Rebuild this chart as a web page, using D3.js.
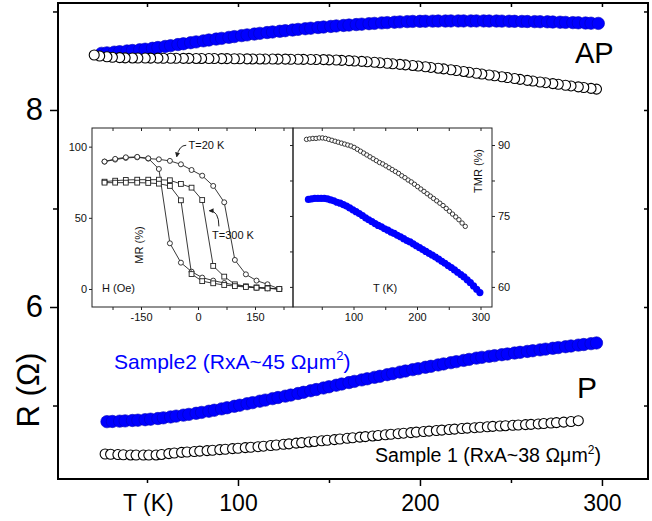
<!DOCTYPE html>
<html>
<head>
<meta charset="utf-8">
<script src="https://cdn.jsdelivr.net/npm/d3@7"></script>
<style>
  body { margin: 0; background: #fff; }
  text { font-family: Arial, "Liberation Sans", sans-serif; }
</style>
</head>
<body>
<div id="chart"></div>
<script>
// ---- main panel data: R (Ohm) vs T (K) ----
// sample 1, antiparallel state (open circles)
var tAP1 = [21,24,28,31,35,38,42,45,49,52,56,59,63,66,70,73,77,80,84,87,91,94,98,101,105,108,112,115,119,122,126,129,133,136,140,143,147,150,154,157,161,164,168,171,175,178,182,185,189,192,196,199,203,206,210,213,217,220,224,227,231,234,238,241,245,248,252,255,259,262,266,269,273,276,280,283,287,290,294,297];
var rAP1 = [8.558,8.548,8.540,8.535,8.531,8.529,8.528,8.527,8.527,8.526,8.526,8.525,8.525,8.525,8.524,8.524,8.523,8.523,8.522,8.522,8.521,8.521,8.520,8.520,8.519,8.518,8.518,8.517,8.517,8.516,8.516,8.515,8.515,8.514,8.513,8.512,8.511,8.509,8.507,8.504,8.501,8.497,8.493,8.489,8.484,8.479,8.474,8.469,8.463,8.458,8.452,8.446,8.439,8.432,8.424,8.417,8.408,8.401,8.391,8.383,8.373,8.365,8.355,8.347,8.337,8.329,8.319,8.311,8.301,8.294,8.284,8.277,8.268,8.261,8.251,8.244,8.235,8.228,8.219,8.212];
// sample 2, antiparallel state (blue)
var tAP2 = [25,28,32,35,39,42,46,49,53,56,60,63,67,70,74,77,81,84,88,91,95,98,102,105,109,112,116,119,123,126,130,133,137,140,144,147,151,154,158,161,165,168,172,175,179,182,186,189,193,196,200,203,207,210,214,217,221,224,228,231,235,238,242,245,249,252,256,259,263,266,270,273,277,280,284,287,291,294,298];
var rAP2 = [8.575,8.580,8.587,8.592,8.599,8.604,8.611,8.617,8.626,8.634,8.645,8.653,8.664,8.672,8.683,8.691,8.702,8.710,8.720,8.727,8.737,8.745,8.755,8.762,8.771,8.778,8.786,8.792,8.799,8.805,8.812,8.818,8.825,8.830,8.837,8.842,8.848,8.853,8.858,8.862,8.867,8.871,8.876,8.879,8.884,8.887,8.891,8.894,8.897,8.899,8.900,8.901,8.902,8.903,8.903,8.904,8.904,8.904,8.904,8.904,8.904,8.903,8.903,8.902,8.901,8.900,8.899,8.898,8.897,8.896,8.895,8.893,8.891,8.889,8.887,8.885,8.883,8.881,8.879];
// sample 2, parallel state (blue)
var tP2 = [28,31,35,38,42,45,49,52,56,59,63,66,70,73,77,80,84,87,91,94,98,101,105,108,112,115,119,122,126,129,133,136,140,143,147,150,154,157,161,164,168,171,175,178,182,185,189,192,196,199,203,206,210,213,217,220,224,227,231,234,238,241,245,248,252,255,259,262,266,269,273,276,280,283,287,290,294,297];
var rP2 = [4.836,4.838,4.841,4.844,4.848,4.851,4.856,4.861,4.868,4.875,4.884,4.892,4.902,4.910,4.921,4.930,4.942,4.952,4.966,4.977,4.992,5.003,5.018,5.029,5.044,5.055,5.070,5.081,5.095,5.106,5.122,5.134,5.150,5.162,5.178,5.190,5.206,5.218,5.233,5.245,5.260,5.271,5.286,5.297,5.313,5.324,5.339,5.350,5.364,5.374,5.388,5.398,5.412,5.422,5.435,5.445,5.458,5.468,5.481,5.489,5.499,5.506,5.516,5.523,5.533,5.540,5.549,5.556,5.565,5.572,5.581,5.588,5.597,5.604,5.613,5.619,5.628,5.635];
// sample 1, parallel state (open circles)
var tP1 = [27,30,34,37,41,44,48,51,55,58,62,65,69,72,76,79,83,86,90,93,97,100,104,107,111,114,118,121,125,128,132,135,139,142,146,149,153,156,160,163,167,170,174,177,181,184,188,191,195,198,202,205,209,212,216,219,223,226,230,233,237,240,244,247,251,254,258,261,265,268,272,275,279,283,287];
var rP1 = [4.508,4.505,4.502,4.500,4.498,4.497,4.497,4.497,4.498,4.503,4.512,4.518,4.524,4.528,4.533,4.537,4.542,4.546,4.552,4.556,4.562,4.566,4.572,4.576,4.582,4.587,4.594,4.599,4.606,4.611,4.618,4.623,4.630,4.635,4.642,4.647,4.654,4.660,4.667,4.672,4.679,4.684,4.691,4.696,4.703,4.708,4.714,4.719,4.725,4.730,4.736,4.740,4.746,4.750,4.756,4.760,4.766,4.770,4.775,4.779,4.784,4.788,4.792,4.795,4.799,4.802,4.806,4.809,4.813,4.817,4.822,4.826,4.831,4.837,4.846];

var xMajor = [100, 200, 300], xMinor = [50, 150, 250];
var yMajor = [6, 8], yMinor = [5, 7, 9];

// ---- inset left: MR (%) vs H (Oe) ----
var hField = [-246,-218,-190,-160,-131,-103,-74,-45,-17,11,40,69,97,126,154,183,214];
var mr20a = [89.5,90.9,92.1,92.5,91.6,91.1,90.0,87.6,83.6,79.6,72.4,60.9,20.4,10.3,5.9,3.3,0];
var mr20b = [89.5,91.4,92.5,92.8,91.8,84.3,32.1,18.5,12.2,8.0,5.9,4.2,2.8,1.6,0.9,0.5,0];
var mr300a = [75.4,76.1,76.6,76.8,76.8,76.8,76.4,73.8,71.2,62.5,16.2,8.7,3.3,1.9,1.1,0.7,0];
var mr300b = [74.7,74.7,74.7,74.7,74.5,74.0,72.4,62.3,10.5,5.5,4.0,2.8,2.0,1.4,0.9,0.4,0];
var hTicks = [-225,-150,-75,0,75,150,225], hLabels = [-150, 0, 150];
var mrTicks = [0, 50, 100];

// ---- inset right: TMR (%) vs T (K) ----
var tTmr1 = [26,31,36,41,46,51,56,61,66,71,76,81,86,91,96,101,106,111,116,121,126,131,136,141,146,151,156,161,166,171,176,181,186,191,196,201,206,211,216,221,226,231,236,241,246,251,256,261,266,271,276];
var tmr1 = [91.2,91.3,91.4,91.4,91.5,91.5,91.4,91.2,91.0,90.8,90.6,90.4,90.2,90.0,89.8,89.5,89.1,88.7,88.3,87.9,87.5,87.1,86.7,86.3,86.0,85.6,85.2,84.8,84.4,84.0,83.5,83.1,82.6,82.2,81.7,81.2,80.7,80.2,79.7,79.2,78.7,78.2,77.7,77.2,76.6,76.0,75.4,74.8,74.2,73.5,72.8];
var tTmr2 = [29,34,39,44,49,54,59,64,69,74,79,84,89,94,99,104,109,114,119,124,129,134,139,144,149,154,159,164,169,174,179,184,189,194,199,204,209,214,219,224,229,234,239,244,249,254,259,264,269,274,279,284,289,294,299];
var tmr2 = [78.5,78.6,78.7,78.7,78.7,78.7,78.6,78.4,78.2,77.9,77.7,77.4,77.1,76.7,76.3,75.9,75.5,75.1,74.6,74.2,73.8,73.4,73.0,72.7,72.3,72.0,71.6,71.3,70.9,70.6,70.2,69.8,69.5,69.1,68.7,68.3,67.9,67.5,67.1,66.7,66.3,65.9,65.4,65.0,64.5,64.1,63.6,63.1,62.6,62.1,61.5,60.9,60.2,59.5,58.8];
var tInsetTicks = [50,100,150,200,250,300], tInsetLabels = [100,200,300];
var tmrTicks = [60,67.5,75,82.5,90], tmrLabels = [60,75,90];

var BLUE = "#0000ff";
var FONT = "Arial, 'Liberation Sans', sans-serif";

function pairs(xs, ys) {
  return xs.map(function(v, i) { return {x: v, y: ys[i]}; });
}

var svg = d3.select("#chart").append("svg")
    .attr("width", 652)
    .attr("height", 521);

// main scales
var x = d3.scaleLinear().domain([1.1, 325.3]).range([58, 648]);
var y = d3.scaleLinear().domain([4.254, 9.086]).range([479, 3]);

function clean(g) { g.select(".domain").remove(); return g; }

// bottom axis
svg.append("g").attr("transform", "translate(0,479)")
  .call(d3.axisBottom(x).tickValues(xMajor).tickSize(7).tickPadding(9).tickFormat(d3.format("d")))
  .call(clean)
  .selectAll("text").style("font-size", "23px").style("font-family", FONT).attr("fill", "#000");
svg.append("g").attr("transform", "translate(0,479)")
  .call(d3.axisBottom(x).tickValues(xMinor).tickSize(4).tickFormat(""))
  .call(clean);
// top inward ticks
svg.append("g").attr("transform", "translate(0,3)")
  .call(d3.axisTop(x).tickValues(xMajor.concat(xMinor)).tickSize(-4).tickFormat(""))
  .call(clean);

// left axis
svg.append("g").attr("transform", "translate(58,0)")
  .call(d3.axisLeft(y).tickValues(yMajor).tickSize(8).tickPadding(7).tickFormat(d3.format("d")))
  .call(clean)
  .selectAll("text").style("font-size", "31px").style("font-family", FONT).attr("fill", "#000");
svg.append("g").attr("transform", "translate(58,0)")
  .call(d3.axisLeft(y).tickValues(yMinor).tickSize(5).tickFormat(""))
  .call(clean);
// right inward ticks
svg.append("g").attr("transform", "translate(648,0)")
  .call(d3.axisRight(y).tickValues(yMajor.concat(yMinor)).tickSize(-4).tickFormat(""))
  .call(clean);

svg.selectAll(".tick line").attr("stroke", "#000").attr("stroke-width", 1.5);

// frame
svg.append("rect")
  .attr("x", 58).attr("y", 3).attr("width", 590).attr("height", 476)
  .attr("fill", "none").attr("stroke", "#000").attr("stroke-width", 2);

// main series
var main = svg.append("g");
main.selectAll(".ap2").data(pairs(tAP2, rAP2)).enter().append("circle")
  .attr("cx", function(d) { return x(d.x); })
  .attr("cy", function(d) { return y(d.y); })
  .attr("r", 6.2)
  .attr("fill", BLUE).attr("stroke", "#0000b8").attr("stroke-width", 0.6);
main.selectAll(".p2").data(pairs(tP2, rP2)).enter().append("circle")
  .attr("cx", function(d) { return x(d.x); })
  .attr("cy", function(d) { return y(d.y); })
  .attr("r", 6.2)
  .attr("fill", BLUE).attr("stroke", "#0000b8").attr("stroke-width", 0.6);
// AP1 drawn from high T to low T
main.selectAll(".ap1").data(pairs(tAP1, rAP1).reverse()).enter().append("circle")
  .attr("cx", function(d) { return x(d.x); })
  .attr("cy", function(d) { return y(d.y); })
  .attr("r", 5)
  .attr("fill", "#fff").attr("stroke", "#000").attr("stroke-width", 1.1);
main.selectAll(".p1").data(pairs(tP1, rP1)).enter().append("circle")
  .attr("cx", function(d) { return x(d.x); })
  .attr("cy", function(d) { return y(d.y); })
  .attr("r", 5)
  .attr("fill", "#fff").attr("stroke", "#000").attr("stroke-width", 1.1);

// axis titles and labels
svg.append("text")
  .attr("transform", "translate(39,390) rotate(-90)")
  .attr("text-anchor", "middle")
  .style("font-size", "31px")
  .text("R (\u03A9)");
svg.append("text").attr("x", 123).attr("y", 511).style("font-size", "23px").text("T (K)");
svg.append("text").attr("x", 575).attr("y", 63).style("font-size", "29px").text("AP");
svg.append("text").attr("x", 577).attr("y", 398).style("font-size", "30px").text("P");

var s2 = svg.append("text").attr("x", 114).attr("y", 369).style("font-size", "21px").attr("fill", BLUE);
s2.append("tspan").text("Sample2 (RxA~45 \u03A9\u03BCm");
s2.append("tspan").attr("dy", -9).style("font-size", "13px").text("2");
s2.append("tspan").attr("dy", 9).text(")");

var s1 = svg.append("text").attr("x", 375).attr("y", 462).style("font-size", "19.6px").attr("fill", "#000");
s1.append("tspan").text("Sample 1 (RxA~38 \u03A9\u03BCm");
s1.append("tspan").attr("dy", -8).style("font-size", "12px").text("2");
s1.append("tspan").attr("dy", 8).text(")");

// ---- inset ----
var inset = svg.append("g");
inset.append("rect").attr("x", 92).attr("y", 128).attr("width", 400).attr("height", 179)
  .attr("fill", "#fff").attr("stroke", "none");

var xH = d3.scaleLinear().domain([-279, 250]).range([92, 293]);
var yMR = d3.scaleLinear().domain([-12.65, 113.1]).range([307, 128]);
var xT = d3.scaleLinear().domain([4.7, 318.1]).range([293, 492]);
var yT = d3.scaleLinear().domain([55.75, 93.6]).range([307, 128]);

function fmtOnly(list) {
  return function(d) { return list.indexOf(d) >= 0 ? d : ""; };
}

var ins = inset.append("g").attr("class", "insetAxes");
ins.append("g").attr("transform", "translate(0,307)")
  .call(d3.axisBottom(xH).tickValues(hTicks).tickSize(3).tickPadding(3).tickFormat(fmtOnly(hLabels)))
  .call(clean);
ins.append("g").attr("transform", "translate(0,128)")
  .call(d3.axisTop(xH).tickValues(hTicks).tickSize(-3).tickFormat(""))
  .call(clean);
ins.append("g").attr("transform", "translate(92,0)")
  .call(d3.axisLeft(yMR).tickValues(mrTicks).tickSize(3).tickPadding(2))
  .call(clean);
ins.append("g").attr("transform", "translate(0,307)")
  .call(d3.axisBottom(xT).tickValues(tInsetTicks).tickSize(3).tickPadding(3).tickFormat(fmtOnly(tInsetLabels)))
  .call(clean);
ins.append("g").attr("transform", "translate(0,128)")
  .call(d3.axisTop(xT).tickValues(tInsetTicks).tickSize(-3).tickFormat(""))
  .call(clean);
ins.append("g").attr("transform", "translate(492,0)")
  .call(d3.axisRight(yT).tickValues(tmrTicks).tickSize(3).tickPadding(3).tickFormat(fmtOnly(tmrLabels)))
  .call(clean);
ins.append("g").attr("transform", "translate(293,0)")
  .call(d3.axisLeft(yT).tickValues(tmrTicks).tickSize(3).tickFormat(""))
  .call(clean);
ins.selectAll("text").style("font-size", "11px").style("font-family", FONT).attr("fill", "#111");
ins.selectAll(".tick line").attr("stroke", "#222").attr("stroke-width", 1);

// MR loops
var loopLine = d3.line().x(function(d) { return xH(d.x); }).y(function(d) { return yMR(d.y); });
[mr20a, mr20b].forEach(function(arr) {
  var pts = pairs(hField, arr);
  inset.append("path").attr("d", loopLine(pts)).attr("fill", "none").attr("stroke", "#222").attr("stroke-width", 0.9);
  inset.append("g").selectAll("circle").data(pts).enter().append("circle")
    .attr("cx", function(d) { return xH(d.x); })
    .attr("cy", function(d) { return yMR(d.y); })
    .attr("r", 2.5).attr("fill", "#fff").attr("stroke", "#222").attr("stroke-width", 0.9);
});
[mr300a, mr300b].forEach(function(arr) {
  var pts = pairs(hField, arr);
  inset.append("path").attr("d", loopLine(pts)).attr("fill", "none").attr("stroke", "#222").attr("stroke-width", 0.9);
  inset.append("g").selectAll("rect").data(pts).enter().append("rect")
    .attr("x", function(d) { return xH(d.x) - 2.4; })
    .attr("y", function(d) { return yMR(d.y) - 2.4; })
    .attr("width", 4.8).attr("height", 4.8)
    .attr("fill", "#fff").attr("stroke", "#222").attr("stroke-width", 0.9);
});

// TMR vs T
inset.append("g").selectAll("circle").data(pairs(tTmr2, tmr2)).enter().append("circle")
  .attr("cx", function(d) { return xT(d.x); })
  .attr("cy", function(d) { return yT(d.y); })
  .attr("r", 3.6).attr("fill", BLUE);
inset.append("g").selectAll("circle").data(pairs(tTmr1, tmr1)).enter().append("circle")
  .attr("cx", function(d) { return xT(d.x); })
  .attr("cy", function(d) { return yT(d.y); })
  .attr("r", 2.2).attr("fill", "#fff").attr("stroke", "#222").attr("stroke-width", 0.9);

// inset frames
inset.append("rect").attr("x", 92).attr("y", 128).attr("width", 201).attr("height", 179)
  .attr("fill", "none").attr("stroke", "#222").attr("stroke-width", 1);
inset.append("rect").attr("x", 293).attr("y", 128).attr("width", 199).attr("height", 179)
  .attr("fill", "none").attr("stroke", "#222").attr("stroke-width", 1);

// inset labels
function lbl(px, py, s, rot) {
  var t = inset.append("text").style("font-size", "11px").attr("fill", "#111").text(s);
  if (rot) t.attr("transform", "translate(" + px + "," + py + ") rotate(-90)").attr("text-anchor", "middle");
  else t.attr("x", px).attr("y", py);
  return t;
}
lbl(xH(-25), yMR(98.5), "T=20 K");
lbl(xH(37), yMR(35), "T=300 K");
lbl(143, 245, "MR (%)", true);
lbl(102, 292, "H (Oe)");
lbl(373, 292, "T (K)");
lbl(482, 171, "TMR (%)", true);

// curved arrows
var defs = svg.append("defs");
defs.append("marker").attr("id", "ah")
  .attr("viewBox", "0 0 6 6").attr("refX", 5).attr("refY", 3)
  .attr("markerWidth", 5).attr("markerHeight", 5).attr("orient", "auto")
  .append("path").attr("d", "M0,0 L6,3 L0,6 z").attr("fill", "#222");
inset.append("path")
  .attr("d", "M" + xH(-31) + "," + yMR(101) + " Q" + xH(-50) + "," + yMR(101) + " " + xH(-56) + "," + yMR(93))
  .attr("fill", "none").attr("stroke", "#222").attr("stroke-width", 1).attr("marker-end", "url(#ah)");
inset.append("path")
  .attr("d", "M" + xH(55) + "," + yMR(44) + " Q" + xH(55) + "," + yMR(55) + " " + xH(30) + "," + yMR(55))
  .attr("fill", "none").attr("stroke", "#222").attr("stroke-width", 1).attr("marker-end", "url(#ah)");
</script>
</body>
</html>
